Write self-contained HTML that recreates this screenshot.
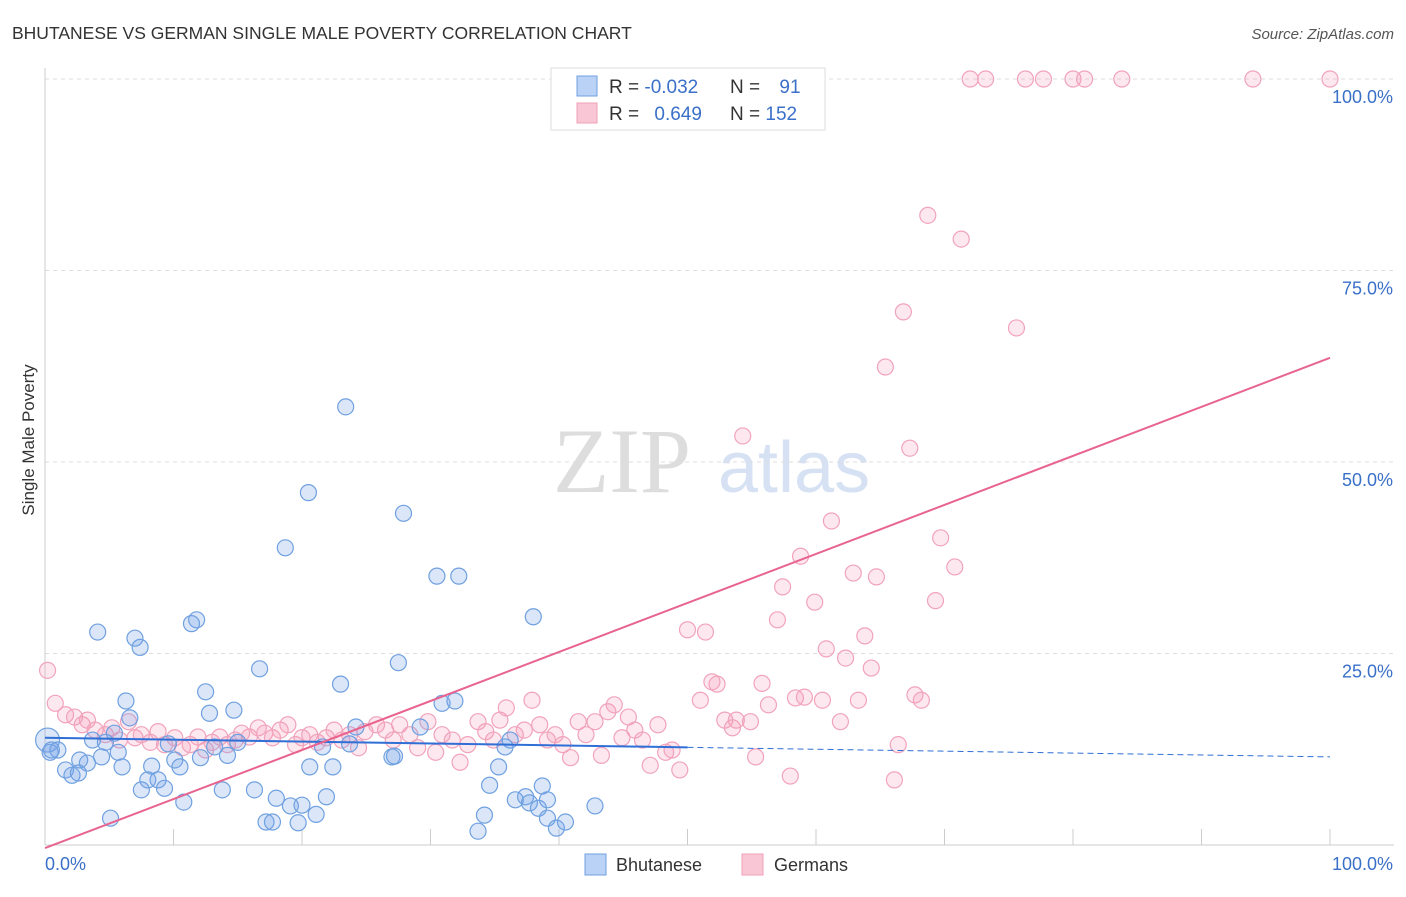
<!DOCTYPE html>
<html><head><meta charset="utf-8">
<style>
body{margin:0;background:#fff;font-family:"Liberation Sans",sans-serif;}
svg text{font-family:"Liberation Sans",sans-serif;}
</style></head>
<body>
<svg id="chart" width="1406" height="892" viewBox="0 0 1406 892" xmlns="http://www.w3.org/2000/svg">
<text x="12" y="39" font-size="17.5" fill="#333">BHUTANESE VS GERMAN SINGLE MALE POVERTY CORRELATION CHART</text>
<text x="1394" y="39" font-size="15" fill="#555" font-style="italic" text-anchor="end">Source: ZipAtlas.com</text>
<g>
<text x="553" y="492" font-size="92" fill="#ddd" font-family="Liberation Serif" style="font-family:'Liberation Serif',serif">ZIP</text>
<text x="718" y="492" font-size="72" fill="#d6e2f4">atlas</text>
</g>
<g id="grid"></g>
<g id="axes"></g>
<g id="pts"></g>
<g id="lines"></g>
<text x="16" y="0" transform="translate(34,456) rotate(-90)" font-size="17" fill="#333" text-anchor="middle">Single Male Poverty</text>
<g>
<rect x="551" y="68" width="274" height="62" fill="#fff" stroke="#ddd"/>
<rect x="577" y="76" width="20" height="20" fill="#b9d2f5" stroke="#6fa0e0"/>
<rect x="577" y="103" width="20" height="20" fill="#f9c6d5" stroke="#f0a0b8"/>
<text x="609" y="93" font-size="19" fill="#333">R = <tspan fill="#3a70c8">-0.032</tspan></text>
<text x="730" y="93" font-size="19" fill="#333">N = <tspan fill="#3a70c8" dx="14">91</tspan></text>
<text x="609" y="120" font-size="19" fill="#333">R = <tspan fill="#3a70c8" dx="10">0.649</tspan></text>
<text x="730" y="120" font-size="19" fill="#333">N = <tspan fill="#3a70c8">152</tspan></text>
</g>
<g>
<rect x="585" y="854" width="21" height="21" fill="#b9d2f5" stroke="#6fa0e0"/>
<text x="616" y="871" font-size="18" fill="#333">Bhutanese</text>
<rect x="742" y="854" width="21" height="21" fill="#f9c6d5" stroke="#f0a0b8"/>
<text x="774" y="871" font-size="18" fill="#333">Germans</text>
</g>
</svg>
<script>
const yTicks=[25,50,75,100];
const yTickLabels=["25.0%","50.0%","75.0%","100.0%"];
const xTicks=[0,10,20,30,40,50,60,70,80,90,100];
const blueX=[0.2,0.5,1,0.4,1.6,2.1,2.6,2.7,3.3,3.7,4.1,4.4,4.7,5.1,5.4,5.7,6,6.3,6.6,7,7.4,7.5,8,8.3,8.8,9.3,9.6,10.1,10.5,10.8,11.4,11.8,12.1,12.5,12.8,13.2,13.8,14.2,14.7,15,16.7,16.3,17.2,17.7,18,18.7,19.1,19.7,20,20.5,20.6,21.1,21.6,21.9,22.4,23,23.4,23.7,24.2,27,27.2,27.5,27.9,29.2,30.5,30.9,31.9,32.2,33.7,34.2,34.6,35.3,35.8,36.2,36.6,37.4,37.7,38,38.4,38.7,39.1,39.1,39.8,40.5,42.8];
const blueY=[13.7,12.4,12.4,12.1,9.8,9.1,9.4,11.1,10.7,13.7,27.8,11.5,13.4,3.5,14.6,12.1,10.2,18.8,16.6,27,25.8,7.2,8.5,10.3,8.5,7.4,13.2,11.1,10.2,5.6,28.9,29.4,11.4,20,17.2,12.8,7.2,11.7,17.6,13.4,23,7.2,3,3,6.1,38.8,5.1,2.9,5.2,46,10.2,4,12.8,6.3,10.2,21,57.2,13.2,15.4,11.5,11.6,23.8,43.3,15.4,35.1,18.5,18.8,35.1,1.8,3.9,7.8,10.2,12.8,13.7,5.9,6.3,5.5,29.8,4.8,7.7,5.9,3.5,2.2,3,5.1];
const pinkX=[0.2,0.8,1.6,2.3,2.9,3.3,3.9,4.7,5.2,5.8,6.5,7,7.5,8.2,8.8,9.3,10.1,10.7,11.3,11.9,12.5,13,13.6,14.2,14.8,15.3,15.9,16.6,17.1,17.7,18.3,18.9,19.5,20,20.6,21.2,21.9,22.5,23.1,23.7,24.4,24.9,25.8,26.5,27.1,27.6,28.4,29,29.8,30.4,30.9,31.7,32.3,32.9,33.7,34.3,34.9,35.4,35.9,36.6,37.3,37.9,38.5,39.1,39.7,40.3,40.9,41.5,42.1,42.8,43.3,43.8,44.3,44.9,45.4,45.9,46.5,47.1,47.7,48.3,48.8,49.4,50,51,51.4,51.9,52.3,52.9,53.5,53.8,54.3,54.9,55.3,55.8,56.3,57,57.4,58,58.4,58.8,59.1,59.9,60.5,60.8,61.2,61.9,62.3,62.9,63.3,63.8,64.3,64.7,65.4,66.1,66.4,66.8,67.3,67.7,68.2,68.7,69.3,69.7,70.8,71.3,75.6,72,73.2,76.3,77.7,80,80.9,83.8,94,100];
const pinkY=[22.8,18.5,17,16.7,15.7,16.3,15,14.4,15.3,13.7,16.1,14,14.4,13.4,14.8,13.1,14,12.7,13.1,14.1,12.4,13.4,14.1,13.1,13.7,14.6,14.1,15.3,14.6,14,15,15.7,13.1,14,14.4,13.4,14,15,13.7,14.4,12.7,14.8,15.7,15,13.7,15.7,14.4,12.7,16.1,12.1,14.4,13.7,10.8,13.1,16.1,14.8,13.7,16.3,17.9,14.4,15,18.9,15.7,13.7,14.4,13.1,11.4,16.1,14.4,16.1,11.7,17.4,18.3,14,16.7,15,13.7,10.4,15.7,12.1,12.4,9.8,28.1,18.9,27.8,21.3,21,16.3,15.3,16.3,53.4,16.1,11.5,21.1,18.3,29.4,33.7,9,19.2,37.7,19.3,31.7,18.9,25.6,42.3,16.1,24.4,35.5,18.9,27.3,23.1,35,62.4,8.5,13.1,69.6,51.8,19.6,18.9,82.2,31.9,40.1,36.3,79.1,67.5,100,100,100,100,100,100,100,100,100];
const blueTrend=[14.0,11.5];
const pinkTrend=[-0.4,63.6];
const NS="http://www.w3.org/2000/svg";
const X0=45,X1=1330,Y0=845,Y1=79;
function sx(v){return X0+(X1-X0)*v/100;}
function sy(v){return Y0-(Y0-Y1)*v/100;}
function mk(tag,attrs,parent){const e=document.createElementNS(NS,tag);for(const k in attrs)e.setAttribute(k,attrs[k]);parent.appendChild(e);return e;}
const grid=document.getElementById('grid'),axes=document.getElementById('axes'),pts=document.getElementById('pts'),lines=document.getElementById('lines');
yTicks.forEach((t,i)=>{
 const l=mk('line',{x1:X0,x2:1394,y1:sy(t),y2:sy(t),stroke:'#ddd','stroke-dasharray':'4,4'},grid);
 
 
 const tx=mk('text',{x:1393,y:sy(t)+24,'font-size':18,fill:'#3a70c8','text-anchor':'end'},axes);
 tx.textContent=yTickLabels[i];
 
 
});
const ax=mk('line',{x1:X0,x2:1394,y1:Y0,y2:Y0,stroke:'#ccc'},axes);


const ay=mk('line',{x1:X0,x2:X0,y1:68,y2:Y0,stroke:'#ccc'},axes);


xTicks.forEach(t=>{
 const l=mk('line',{x1:sx(t),x2:sx(t),y1:Y0-16,y2:Y0,stroke:'#ccc'},axes);
 
 
});
const xl0=mk('text',{x:45,y:870,'font-size':18,fill:'#3a70c8'},axes);xl0.textContent='0.0%';


const xl1=mk('text',{x:1393,y:870,'font-size':18,fill:'#3a70c8','text-anchor':'end'},axes);xl1.textContent='100.0%';


pinkX.forEach((v,i)=>{
 const c=mk('circle',{cx:sx(v),cy:sy(pinkY[i]),r:8,fill:'rgba(244,150,180,0.22)',stroke:'#f1a3bb','stroke-width':1.2},pts);
 
 
});
blueX.forEach((v,i)=>{
 const c=mk('circle',{cx:sx(v),cy:sy(blueY[i]),r:i==0?12:8,fill:'rgba(110,160,230,0.25)',stroke:'#6fa0e0','stroke-width':1.2},pts);
 
 
});
const bm=blueTrend[0]+(blueTrend[1]-blueTrend[0])*0.5;
const b1=mk('line',{x1:sx(0),y1:sy(blueTrend[0]),x2:sx(50),y2:sy(bm),stroke:'#2f6fd6','stroke-width':2},lines);


const b2=mk('line',{x1:sx(50),y1:sy(bm),x2:sx(100),y2:sy(blueTrend[1]),stroke:'#2f6fd6','stroke-width':1,'stroke-dasharray':'6,4'},lines);


const p1=mk('line',{x1:sx(0),y1:sy(pinkTrend[0]),x2:sx(100),y2:sy(pinkTrend[1]),stroke:'#e8648f','stroke-width':2},lines);


</script>
</body></html>
